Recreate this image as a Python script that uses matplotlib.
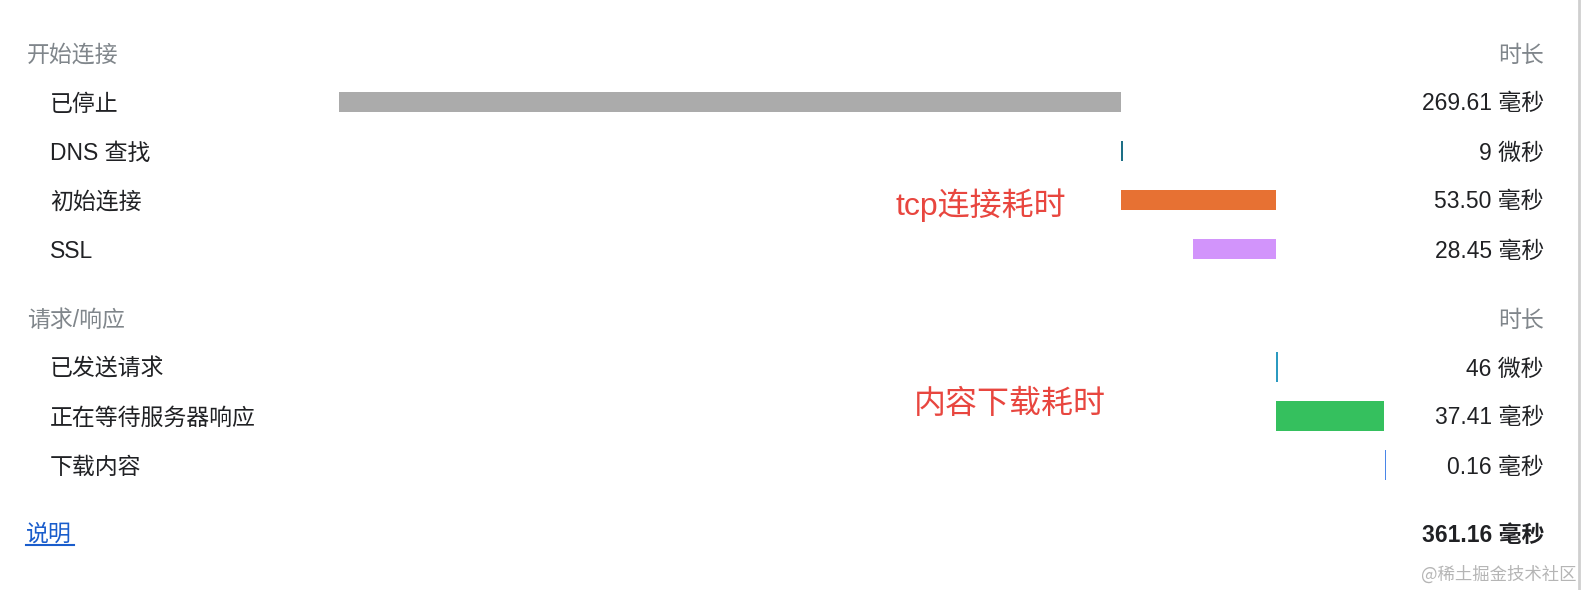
import matplotlib
matplotlib.use("Agg")
import matplotlib.pyplot as plt
from matplotlib.lines import Line2D

plt.rcParams['font.family'] = ['Liberation Sans', 'Noto Sans CJK SC', 'DejaVu Sans']

# --- data ---
connect_header = "开始连接"
request_header = "请求/响应"
duration_header = "时长"

connect_labels = ["已停止", "DNS 查找", "初始连接", "SSL"]
connect_start_ms = [0.0, 269.61, 269.62, 294.67]
connect_dur_ms = [269.61, 0.009, 53.50, 28.45]
connect_values = ["269.61 毫秒", "9 微秒", "53.50 毫秒", "28.45 毫秒"]

request_labels = ["已发送请求", "正在等待服务器响应", "下载内容"]
request_start_ms = [323.12, 323.17, 360.9]
request_dur_ms = [0.046, 37.41, 0.16]
request_values = ["46 微秒", "37.41 毫秒", "0.16 毫秒"]

total_ms = 361.16
total_label = "361.16 毫秒"
notes = ["tcp连接耗时", "内容下载耗时"]

connect_colors = ["#ababab", "#1d6f86", "#e77133", "#d294fb"]
request_colors = ["#2b9ac0", "#35c05e", "#4a86e8"]

# --- layout (pixels) ---
W, H = 1582, 590
X0, X1 = 339, 1386          # timeline start / end
ROW = 49
LABEL_X, HEAD_X, RIGHT_X = 50, 27, 1544
TEXT = "#202124"
GREY = "#80868b"
FS = 16.5
DY = 2                      # text baseline nudge


def fx(x):
    return x / W


def fy(y):
    return 1 - y / H


fig = plt.figure(figsize=(W / 100, H / 100), dpi=100)
fig.patch.set_facecolor("white")

ax = fig.add_axes([fx(X0), 0, (X1 - X0) / W, 1])
ax.set_xlim(0, total_ms)
ax.set_ylim(H, 0)
ax.axis("off")

min_w = 2.5 * total_ms / (X1 - X0)   # thin markers drawn ~2 px wide


def section(head_y, header, labels, starts, durs, values, colors, bar_h):
    fig.text(fx(HEAD_X), fy(head_y + DY), header, color=GREY,
             fontsize=FS, va="center", ha="left")
    fig.text(fx(RIGHT_X), fy(head_y + DY), duration_header, color=GREY,
             fontsize=FS, va="center", ha="right")
    for i, (lab, s, d, v, c) in enumerate(zip(labels, starts, durs, values, colors)):
        y = head_y + ROW * (i + 1)
        fig.text(fx(LABEL_X), fy(y + DY), lab, color=TEXT, fontsize=FS, va="center", ha="left")
        fig.text(fx(RIGHT_X), fy(y + DY), v, color=TEXT, fontsize=FS, va="center", ha="right")
        thin = d < min_w
        ax.barh(y, max(d, min_w), left=s, height=bar_h, color=c, linewidth=0,
                antialiased=not thin)


section(53, connect_header, connect_labels, connect_start_ms, connect_dur_ms,
        connect_values, connect_colors, 20)
section(318, request_header, request_labels, request_start_ms, request_dur_ms,
        request_values, request_colors, 30)

# annotations
fig.text(fx(896), fy(205), notes[0], color="#e8463f", fontsize=23, va="center", ha="left")
fig.text(fx(914), fy(405), notes[1], color="#e8463f", fontsize=23, va="center", ha="left")

# footer
fig.text(fx(26), fy(532 + DY), "说明", color="#1a5dcc", fontsize=FS, va="center", ha="left")
fig.add_artist(Line2D([fx(26), fx(74)], [fy(545), fy(545)], color="#1a5dcc", lw=1.5))
fig.text(fx(RIGHT_X), fy(533 + DY), total_label, color=TEXT, fontsize=FS,
         fontweight="bold", va="center", ha="right")
fig.text(fx(1576), fy(575), "@稀土掘金技术社区", color="#b5b5b5", fontsize=12.5,
         va="center", ha="right", family=["Noto Sans CJK SC", "DejaVu Sans"])

# right border of the panel
fig.add_artist(Line2D([fx(1579), fx(1579)], [0, 1], color="#cfcfcf", lw=2))

fig.savefig("out.png", dpi=100, facecolor="white")
